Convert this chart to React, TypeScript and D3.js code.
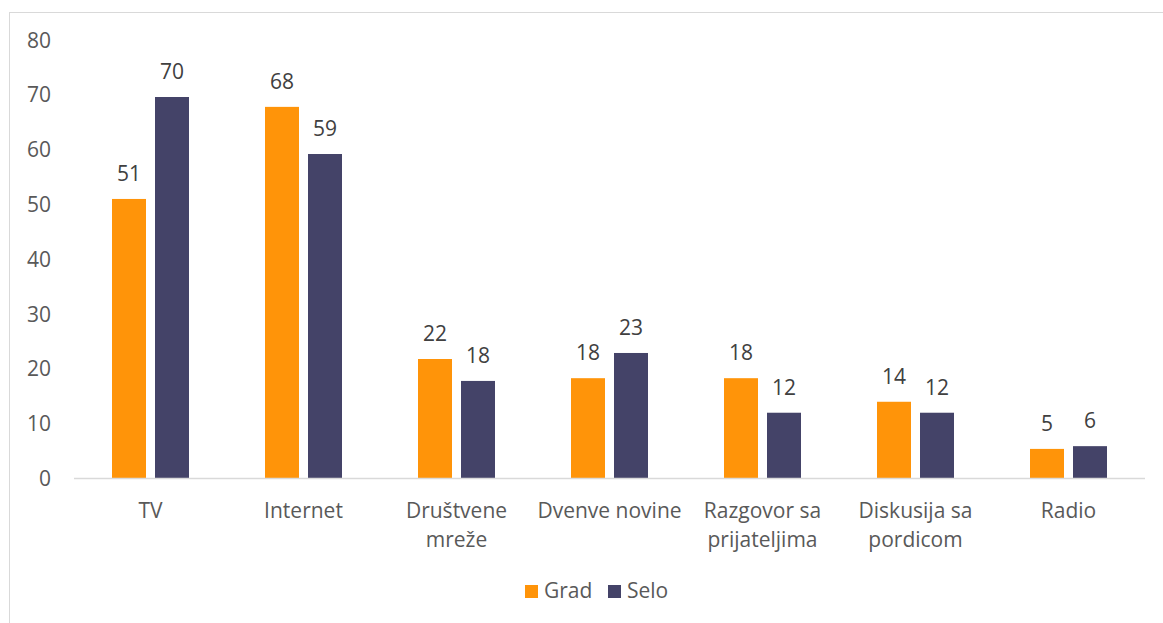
import React from "react";
import * as d3 from "d3";

const categories: string[][] = [
  ["TV"],
  ["Internet"],
  ["Društvene", "mreže"],
  ["Dvenve novine"],
  ["Razgovor sa", "prijateljima"],
  ["Diskusija sa", "pordicom"],
  ["Radio"],
];
const seriesNames = ["Grad", "Selo"];
const grad = [51.0, 67.8, 21.8, 18.3, 18.3, 14.0, 5.4];
const selo = [69.6, 59.2, 17.8, 22.9, 12.0, 12.0, 5.9];
const yTicks = [0, 10, 20, 30, 40, 50, 60, 70, 80];

const colors = ["#FF9409", "#444368"];
const W = 1163;
const H = 623;
const FONT = "'Open Sans', sans-serif";
const FS = 21;

export default function App() {
  const left = 74;
  const right = 1145;
  const top = 40;
  const bottom = 478.5;
  const x = d3
    .scaleBand<number>()
    .domain(d3.range(categories.length))
    .range([left, right]);
  const y = d3.scaleLinear().domain([0, 80]).range([bottom, top]);
  const barW = 34;
  const gap = 9;
  const series = [grad, selo];
  const fmt = d3.format(".0f");

  return (
    <svg
      width={W}
      height={H}
      style={{ position: "absolute", left: 0, top: 0 }}
      fontFamily={FONT}
    >
      <rect x={0} y={0} width={W} height={H} fill="#fff" />
      <rect
        x={9.5}
        y={12.5}
        width={W}
        height={H}
        fill="none"
        stroke="#D9D9D9"
        strokeWidth={1}
      />
      {yTicks.map((t) => (
        <text
          key={t}
          x={51}
          y={y(t) + 7.5}
          textAnchor="end"
          fontSize={FS}
          fill="#595959"
        >
          {t}
        </text>
      ))}
      {series.map((vals, si) =>
        vals.map((v, i) => {
          const cx = x(i)! + x.bandwidth() / 2;
          const bx = si === 0 ? cx - gap / 2 - barW : cx + gap / 2;
          return (
            <g key={`${si}-${i}`}>
              <rect
                x={bx}
                y={y(v)}
                width={barW}
                height={y(0) - y(v)}
                fill={colors[si]}
              />
              <text
                x={bx + barW / 2}
                y={y(v) - 18}
                textAnchor="middle"
                fontSize={FS}
                fill="#404040"
              >
                {fmt(v)}
              </text>
            </g>
          );
        })
      )}
      <line
        x1={left}
        x2={right}
        y1={bottom}
        y2={bottom}
        stroke="#D9D9D9"
        strokeWidth={1.5}
      />
      {categories.map((lines, i) => (
        <text
          key={i}
          x={x(i)! + x.bandwidth() / 2}
          y={517.5}
          textAnchor="middle"
          fontSize={FS}
          fill="#595959"
        >
          {lines.map((l, k) => (
            <tspan key={k} x={x(i)! + x.bandwidth() / 2} dy={k === 0 ? 0 : 29}>
              {l}
            </tspan>
          ))}
        </text>
      ))}
      {seriesNames.map((n, i) => {
        const lx = i === 0 ? 525 : 608;
        return (
          <g key={n}>
            <rect x={lx} y={585} width={13} height={13} fill={colors[i]} />
            <text x={lx + 19} y={598} fontSize={FS} fill="#595959">
              {n}
            </text>
          </g>
        );
      })}
    </svg>
  );
}
